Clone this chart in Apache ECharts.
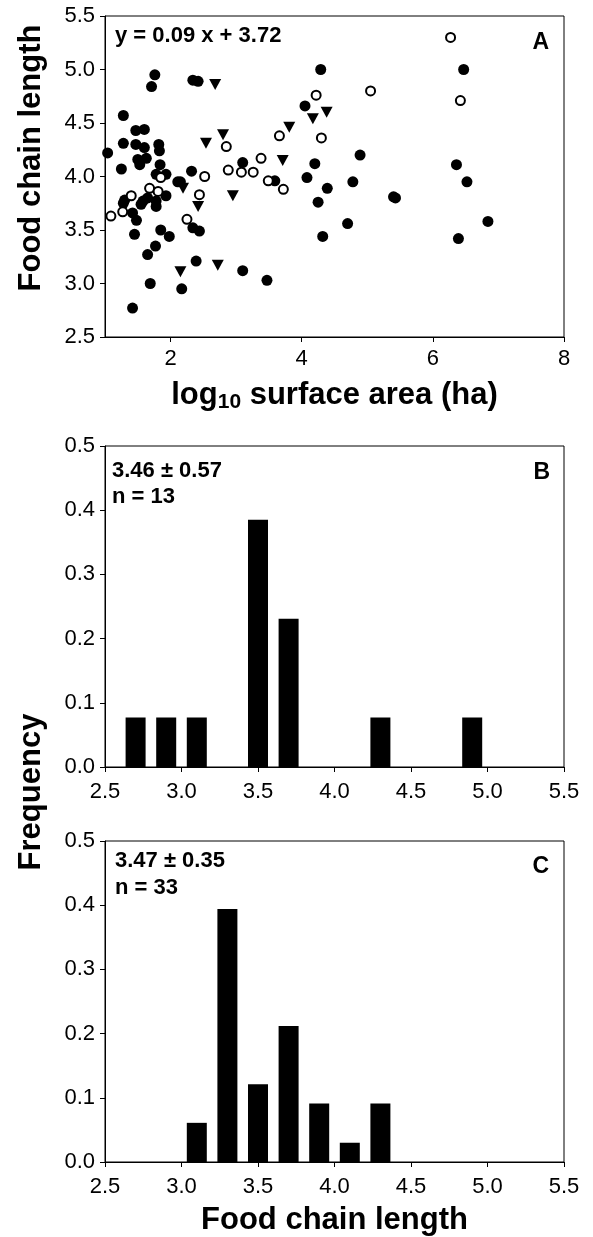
<!DOCTYPE html>
<html>
<head>
<meta charset="utf-8">
<script src="https://cdn.jsdelivr.net/npm/echarts@6/dist/echarts.min.js"></script>
<style>
  html, body { margin: 0; padding: 0; background: #fff; }
  #chart { width: 593px; height: 1237px; }
</style>
</head>
<body>
<div id="chart"></div>
<script>
// panel A: log10 area vs food chain length
var filledPts = [
  [1.76, 4.95], [1.71, 4.84], [2.34, 4.90], [2.42, 4.89], [1.28, 4.57], [1.47, 4.43], [1.60, 4.44],
  [1.28, 4.31], [1.47, 4.30], [1.60, 4.27], [1.82, 4.30], [1.83, 4.24], [1.04, 4.22], [1.50, 4.16],
  [1.63, 4.17], [1.53, 4.11], [1.84, 4.11], [1.25, 4.07], [1.78, 4.02], [1.93, 4.02], [2.11, 3.95],
  [1.30, 3.78], [1.28, 3.75], [1.58, 3.77], [1.65, 3.80], [1.78, 3.77], [1.93, 3.82], [1.55, 3.74],
  [1.78, 3.72], [1.42, 3.66], [1.48, 3.59], [1.45, 3.46], [1.85, 3.50], [1.98, 3.44], [1.77, 3.35],
  [1.65, 3.27], [1.69, 3.00], [1.42, 2.77], [2.32, 4.05], [2.15, 3.95], [3.10, 4.13], [2.34, 3.52],
  [2.44, 3.49], [2.39, 3.21], [3.10, 3.12], [2.17, 2.95], [3.47, 3.03], [4.29, 5.00], [4.05, 4.66],
  [4.89, 4.20], [3.59, 3.96], [4.20, 4.12], [4.08, 3.99], [4.39, 3.89], [4.78, 3.95], [5.43, 3.80],
  [5.40, 3.81], [4.25, 3.76], [4.70, 3.56], [4.32, 3.44], [6.47, 5.00], [6.36, 4.11], [6.52, 3.95],
  [6.84, 3.58], [6.39, 3.42]
];
var openPts = [
  [1.09, 3.63], [1.27, 3.67], [1.40, 3.82], [1.68, 3.89], [1.81, 3.86], [1.85, 3.99], [2.85, 4.28],
  [2.52, 4.00], [2.44, 3.83], [2.88, 4.06], [3.08, 4.04], [3.26, 4.04], [2.25, 3.60], [3.38, 4.17],
  [6.27, 5.30], [5.05, 4.80], [4.22, 4.76], [3.66, 4.38], [4.30, 4.36], [3.49, 3.96], [3.72, 3.88],
  [6.42, 4.71]
];
var trianglePts = [
  [2.68, 4.86], [2.54, 4.31], [2.80, 4.39], [2.95, 3.82], [2.19, 3.89], [2.42, 3.72], [2.72, 3.17],
  [2.15, 3.11], [4.17, 4.54], [4.38, 4.60], [3.81, 4.46], [3.71, 4.15]
];
var areaTicks = [2, 4, 6, 8];

// panels B and C: frequency histograms
var binsB = [2.7, 2.9, 3.1, 3.5, 3.7, 4.3, 4.9];
var freqB = [0.077, 0.077, 0.077, 0.385, 0.231, 0.077, 0.077];
var binsC = [3.1, 3.3, 3.5, 3.7, 3.9, 4.1, 4.3];
var freqC = [0.061, 0.394, 0.121, 0.212, 0.091, 0.030, 0.091];

var FONT = '"Liberation Sans", Arial, sans-serif';

function pairs(xs, ys) {
  return xs.map(function (x, i) { return [x, ys[i]]; });
}

function oneDec(v) { return v.toFixed(1); }

function baseAxis(extra) {
  var ax = {
    type: 'value',
    axisLine: { show: true, lineStyle: { color: '#000', width: 1 } },
    axisTick: { show: true, length: 5, lineStyle: { color: '#000' } },
    splitLine: { show: false },
    axisLabel: { color: '#000', fontSize: 22, fontFamily: FONT },
    nameTextStyle: { color: '#000', fontSize: 31, fontWeight: 'bold', fontFamily: FONT }
  };
  for (var k in extra) ax[k] = extra[k];
  return ax;
}

var myChart = echarts.init(document.getElementById('chart'));

myChart.setOption({
  animation: false,
  backgroundColor: '#fff',
  grid: [
    { left: 105, right: 29, top: 16, height: 321, show: true, borderColor: '#000', borderWidth: 1 },
    { left: 105, right: 29, top: 446, height: 321, show: true, borderColor: '#000', borderWidth: 1 },
    { left: 105, right: 29, top: 841, height: 328, show: true, borderColor: '#000', borderWidth: 1 }
  ],
  xAxis: [
    baseAxis({
      gridIndex: 0, min: 1, max: 8,
      axisTick: { show: true, length: 5, lineStyle: { color: '#000' }, customValues: areaTicks },
      axisLabel: { color: '#000', fontSize: 22, fontFamily: FONT, margin: 11, customValues: areaTicks },
      name: '{b|log}{s|10}{b| surface area (ha)}',
      nameLocation: 'middle', nameGap: 40,
      nameTextStyle: {
        rich: {
          b: { fontSize: 31, fontWeight: 'bold', fontFamily: FONT, color: '#000' },
          s: { fontSize: 21, fontWeight: 'bold', fontFamily: FONT, color: '#000', padding: [15, 0, 0, 0] }
        }
      }
    }),
    baseAxis({
      gridIndex: 1, min: 2.5, max: 5.5, interval: 0.5,
      axisLabel: { color: '#000', fontSize: 22, fontFamily: FONT, margin: 14, formatter: oneDec }
    }),
    baseAxis({
      gridIndex: 2, min: 2.5, max: 5.5, interval: 0.5,
      axisLabel: { color: '#000', fontSize: 22, fontFamily: FONT, margin: 14, formatter: oneDec },
      name: 'Food chain length', nameLocation: 'middle', nameGap: 43
    })
  ],
  yAxis: [
    baseAxis({
      gridIndex: 0, min: 2.5, max: 5.5, interval: 0.5,
      axisLabel: { color: '#000', fontSize: 22, fontFamily: FONT, margin: 10, formatter: oneDec }
    }),
    baseAxis({
      gridIndex: 1, min: 0, max: 0.5, interval: 0.1,
      axisLabel: { color: '#000', fontSize: 22, fontFamily: FONT, margin: 10, formatter: oneDec }
    }),
    baseAxis({
      gridIndex: 2, min: 0, max: 0.5, interval: 0.1,
      axisLabel: { color: '#000', fontSize: 22, fontFamily: FONT, margin: 10, formatter: oneDec }
    })
  ],
  graphic: [
    { type: 'text', x: 115, y: 36, style: { text: 'y = 0.09 x + 3.72', font: 'bold 22px ' + FONT, fill: '#000', verticalAlign: 'middle' } },
    { type: 'text', x: 549, y: 43, style: { text: 'A', font: 'bold 23px ' + FONT, fill: '#000', align: 'right', verticalAlign: 'middle' } },
    { type: 'text', x: 112, y: 471, style: { text: '3.46 ± 0.57', font: 'bold 22px ' + FONT, fill: '#000', verticalAlign: 'middle' } },
    { type: 'text', x: 112, y: 497, style: { text: 'n = 13', font: 'bold 22px ' + FONT, fill: '#000', verticalAlign: 'middle' } },
    { type: 'text', x: 550, y: 473, style: { text: 'B', font: 'bold 23px ' + FONT, fill: '#000', align: 'right', verticalAlign: 'middle' } },
    { type: 'text', x: 115, y: 861, style: { text: '3.47 ± 0.35', font: 'bold 22px ' + FONT, fill: '#000', verticalAlign: 'middle' } },
    { type: 'text', x: 115, y: 888, style: { text: 'n = 33', font: 'bold 22px ' + FONT, fill: '#000', verticalAlign: 'middle' } },
    { type: 'text', x: 549, y: 867, style: { text: 'C', font: 'bold 23px ' + FONT, fill: '#000', align: 'right', verticalAlign: 'middle' } },
    { type: 'text', x: 31, y: 158, rotation: Math.PI / 2,
      style: { text: 'Food chain length', font: 'bold 31px ' + FONT, fill: '#000', align: 'center', verticalAlign: 'middle' } },
    { type: 'text', x: 31, y: 792, rotation: Math.PI / 2,
      style: { text: 'Frequency', font: 'bold 31px ' + FONT, fill: '#000', align: 'center', verticalAlign: 'middle' } }
  ],
  series: [
    {
      type: 'scatter', xAxisIndex: 0, yAxisIndex: 0,
      symbol: 'circle', symbolSize: 11,
      itemStyle: { color: '#000', opacity: 1 },
      data: filledPts
    },
    {
      type: 'scatter', xAxisIndex: 0, yAxisIndex: 0,
      symbol: 'triangle', symbolRotate: 180, symbolSize: [12, 11],
      itemStyle: { color: '#000', opacity: 1 },
      data: trianglePts
    },
    {
      type: 'scatter', xAxisIndex: 0, yAxisIndex: 0,
      symbol: 'circle', symbolSize: 9,
      itemStyle: { color: '#fff', borderColor: '#000', borderWidth: 2, opacity: 1 },
      data: openPts
    },
    {
      type: 'bar', xAxisIndex: 1, yAxisIndex: 1,
      barWidth: 20,
      itemStyle: { color: '#000' },
      data: pairs(binsB, freqB)
    },
    {
      type: 'bar', xAxisIndex: 2, yAxisIndex: 2,
      barWidth: 20,
      itemStyle: { color: '#000' },
      data: pairs(binsC, freqC)
    }
  ]
});
window.onresize = myChart.resize;
</script>
</body>
</html>
